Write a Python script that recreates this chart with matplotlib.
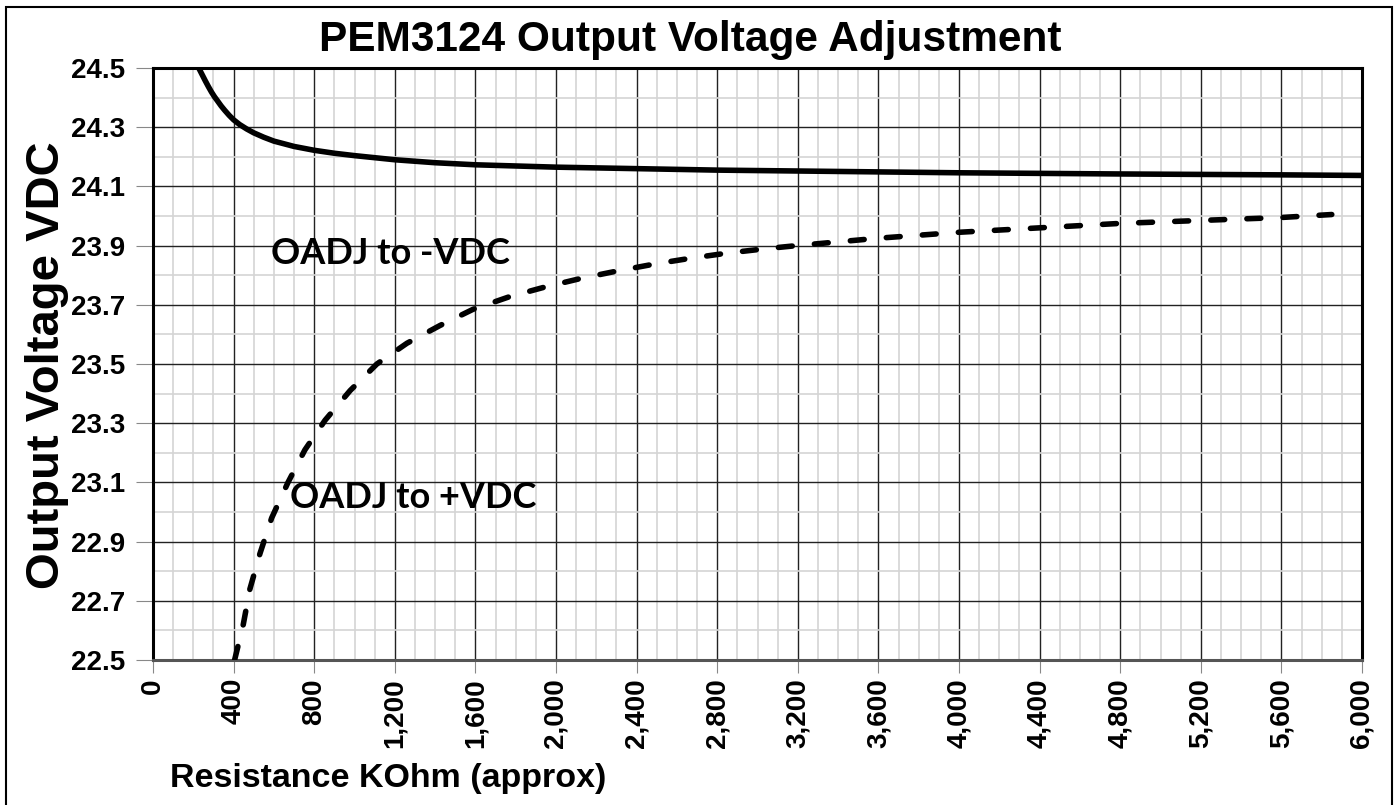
import matplotlib
matplotlib.use('Agg')
import matplotlib.pyplot as plt
import matplotlib.ticker as mtick
from matplotlib.patches import Rectangle

# values (x in KOhm, y in VDC)
neg_x = [227, 245, 260, 275, 290, 305, 320, 338, 356, 378, 400, 430, 465, 500,
         550, 600, 700, 800, 900, 1000, 1200, 1400, 1600, 2000, 2400, 2800,
         3200, 3600, 4000, 4800, 5600, 6000]
neg_y = [24.50, 24.476, 24.456, 24.437, 24.419, 24.403, 24.389, 24.372, 24.357,
         24.34, 24.325, 24.309, 24.294, 24.281, 24.266, 24.253, 24.235, 24.222,
         24.212, 24.204, 24.19, 24.18, 24.173, 24.165, 24.16, 24.155, 24.152,
         24.149, 24.146, 24.142, 24.139, 24.137]

pos_x = [405, 448, 481, 531, 589, 670, 754, 854, 978, 1111, 1260, 1424, 1589,
         1772, 1945, 2129, 2310, 2491, 2675, 2854, 3047, 3196, 3600, 4000,
         4400, 4800, 5200, 5600, 5850]
pos_y = [22.50, 22.62, 22.74, 22.86, 22.98, 23.10, 23.21, 23.31, 23.41, 23.50,
         23.57, 23.63, 23.685, 23.728, 23.76, 23.79, 23.815, 23.838, 23.858,
         23.875, 23.89, 23.90, 23.925, 23.945, 23.96, 23.975, 23.985, 23.995,
         24.005]

x_ticks = list(range(0, 6001, 400))
y_ticks = [22.5, 22.7, 22.9, 23.1, 23.3, 23.5, 23.7, 23.9, 24.1, 24.3, 24.5]

plt.rcParams['font.family'] = ['Liberation Sans', 'DejaVu Sans']
plt.rcParams['font.weight'] = 'bold'

W, H = 1399, 805
fig = plt.figure(figsize=(W / 100, H / 100), dpi=100)
ax = fig.add_axes([153 / W, 1 - 660 / H, (1362 - 153) / W, (660 - 68) / H])

ax.plot(neg_x, neg_y, color='black', lw=4, solid_capstyle='round',
        solid_joinstyle='round', zorder=5)
ax.plot(pos_x, pos_y, color='black', lw=4, dashes=(2.5, 4.0),
        dash_capstyle='round', zorder=5)

ax.set_xlim(0, 6000)
ax.set_ylim(22.5, 24.5)
ax.set_xticks(x_ticks)
ax.set_yticks(y_ticks)
ax.xaxis.set_minor_locator(mtick.MultipleLocator(100))
ax.yaxis.set_minor_locator(mtick.MultipleLocator(0.1))
ax.xaxis.set_major_formatter(mtick.FuncFormatter(lambda v, p: '{:,.0f}'.format(v)))
ax.yaxis.set_major_formatter(mtick.FormatStrFormatter('%.1f'))

ax.grid(which='minor', color='#d4d4d4', lw=1.2)
ax.grid(which='major', color='#222222', lw=1.0)
ax.set_axisbelow(True)

ax.tick_params(axis='x', which='major', labelsize=20, rotation=90, length=9,
               color='#888888', pad=4)
ax.tick_params(axis='y', which='major', labelsize=20, length=12,
               color='#888888', pad=8)
ax.tick_params(which='minor', length=0)
for lab in ax.get_xticklabels() + ax.get_yticklabels():
    lab.set_fontweight('bold')

for s in ax.spines.values():
    s.set_linewidth(2.2)
    s.set_color('black')
ax.spines['bottom'].set_color('#555555')

ax.text(1176, 23.875, 'OADJ to -VDC', fontsize=26, fontweight='bold',
        family=['Lato', 'DejaVu Sans'], ha='center', va='center', zorder=6)
ax.text(1290, 23.05, 'OADJ to +VDC', fontsize=26, fontweight='bold',
        family=['Lato', 'DejaVu Sans'], ha='center', va='center', zorder=6)

fig.text(690 / W, 1 - 40 / H, 'PEM3124 Output Voltage Adjustment',
         fontsize=30.5, fontweight='bold', ha='center', va='center')
fig.text(47 / W, 1 - 365 / H, 'Output Voltage VDC', fontsize=34,
         fontweight='bold', rotation=90, ha='center', va='center')
fig.text(388 / W, 1 - 778 / H, 'Resistance KOhm (approx)', fontsize=24.5,
         fontweight='bold', ha='center', va='center')

# chart frame
fig.patches.append(Rectangle((6 / W, -0.02), (1392 - 6) / W, 1 - 7 / H + 0.02,
                             transform=fig.transFigure, fill=False,
                             edgecolor='black', lw=1.5))

fig.savefig('out.png', dpi=100)
